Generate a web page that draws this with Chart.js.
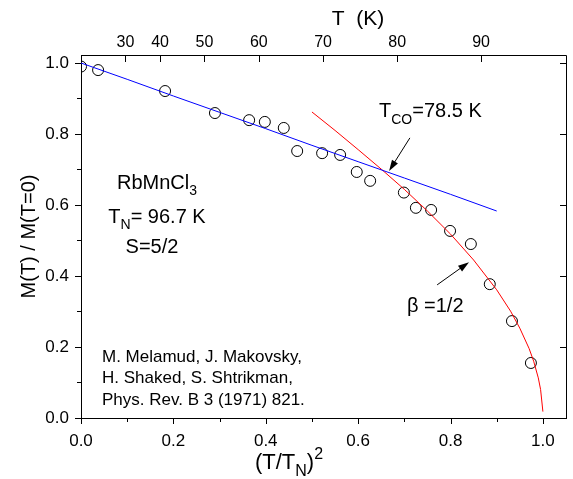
<!DOCTYPE html>
<html>
<head>
<meta charset="utf-8">
<script src="https://cdn.jsdelivr.net/npm/chart.js@4/dist/chart.umd.min.js"></script>
<style>
  html, body { margin: 0; padding: 0; background: #fff; }
  #wrap { width: 573px; height: 479px; position: relative; }
</style>
</head>
<body>
<div id="wrap"><canvas id="chart"></canvas></div>
<script>
// measured points, x = (T/TN)^2, y = M(T)/M(T=0)
var dataX = [0.000, 0.037, 0.182, 0.290, 0.364, 0.398, 0.439, 0.468, 0.522, 0.561, 0.597, 0.626, 0.699, 0.725, 0.758, 0.799, 0.844, 0.885, 0.933, 0.974];
var dataY = [0.990, 0.980, 0.921, 0.859, 0.839, 0.834, 0.817, 0.752, 0.746, 0.741, 0.693, 0.668, 0.635, 0.592, 0.586, 0.527, 0.490, 0.377, 0.273, 0.155];

// blue low temperature line
var blueX = [0.0, 0.1, 0.2, 0.3, 0.4, 0.5, 0.6, 0.7, 0.8, 0.9];
var blueY = [1.000, 0.954, 0.907, 0.861, 0.815, 0.768, 0.722, 0.676, 0.630, 0.583];

// red critical curve (beta = 1/2)
var redX = [0.50, 0.55, 0.60, 0.65, 0.70, 0.75, 0.80, 0.85, 0.90, 0.93, 0.95, 0.97, 0.98, 0.99, 0.995, 1.00];
var redY = [0.862, 0.810, 0.756, 0.701, 0.644, 0.583, 0.518, 0.445, 0.361, 0.301, 0.253, 0.196, 0.160, 0.113, 0.080, 0.018];

// ticks
var xTicks = [0.0, 0.2, 0.4, 0.6, 0.8, 1.0];
var xMinor = [0.1, 0.3, 0.5, 0.7, 0.9];
var yTicks = [0.0, 0.2, 0.4, 0.6, 0.8, 1.0];
var yMinor = [0.1, 0.3, 0.5, 0.7, 0.9];
var tempTicks = [30, 40, 50, 60, 70, 80, 90];
var TN = 96.7;

var FONT = "'Liberation Sans', Arial, sans-serif";

function pts(xs, ys) {
    return xs.map(function(x, i) { return { x: x, y: ys[i] }; });
}

// draws text pieces with sub/superscripts; parts = [text, size, dy]
function richText(ctx, x, y, parts, align) {
    var w = 0;
    parts.forEach(function(p) {
        ctx.font = p[1] + "px " + FONT;
        w += ctx.measureText(p[0]).width;
    });
    var cx = align === "center" ? x - w / 2 : x;
    ctx.textAlign = "left";
    ctx.textBaseline = "alphabetic";
    parts.forEach(function(p) {
        ctx.font = p[1] + "px " + FONT;
        ctx.fillText(p[0], cx, y + p[2]);
        cx += ctx.measureText(p[0]).width;
    });
}

function arrow(ctx, x1, y1, x2, y2) {
    var a = Math.atan2(y2 - y1, x2 - x1);
    var len = 11, half = 3.5;
    ctx.beginPath();
    ctx.moveTo(x1, y1);
    ctx.lineTo(x2 - Math.cos(a) * len * 0.8, y2 - Math.sin(a) * len * 0.8);
    ctx.stroke();
    ctx.beginPath();
    ctx.moveTo(x2, y2);
    ctx.lineTo(x2 - Math.cos(a) * len + Math.sin(a) * half, y2 - Math.sin(a) * len - Math.cos(a) * half);
    ctx.lineTo(x2 - Math.cos(a) * len - Math.sin(a) * half, y2 - Math.sin(a) * len + Math.cos(a) * half);
    ctx.closePath();
    ctx.fill();
}

var extras = {
    id: "extras",
    afterDraw: function(chart) {
        var ctx = chart.ctx;
        var xs = chart.scales.x, ys = chart.scales.y, xt = chart.scales.xTop;
        var a = chart.chartArea;
        ctx.save();
        ctx.strokeStyle = "#000";
        ctx.fillStyle = "#000";
        ctx.lineWidth = 1;

        // frame top/right
        ctx.beginPath();
        ctx.moveTo(a.left, a.top + 0.5);
        ctx.lineTo(a.right + 0.5, a.top + 0.5);
        ctx.lineTo(a.right + 0.5, a.bottom);
        ctx.stroke();

        // ticks
        ctx.beginPath();
        xTicks.forEach(function(v) {
            var px = Math.round(xs.getPixelForValue(v)) + 0.5;
            ctx.moveTo(px, a.bottom); ctx.lineTo(px, a.bottom + 6);
        });
        xMinor.forEach(function(v) {
            var px = Math.round(xs.getPixelForValue(v)) + 0.5;
            ctx.moveTo(px, a.bottom); ctx.lineTo(px, a.bottom + 4);
        });
        yTicks.forEach(function(v) {
            var py = Math.round(ys.getPixelForValue(v)) + 0.5;
            ctx.moveTo(a.left, py); ctx.lineTo(a.left - 6, py);
            ctx.moveTo(a.right, py); ctx.lineTo(a.right - 6, py);
        });
        yMinor.forEach(function(v) {
            var py = Math.round(ys.getPixelForValue(v)) + 0.5;
            ctx.moveTo(a.left, py); ctx.lineTo(a.left - 4, py);
        });
        tempTicks.forEach(function(t) {
            var px = Math.round(xt.getPixelForValue((t / TN) * (t / TN))) + 0.5;
            ctx.moveTo(px, a.top); ctx.lineTo(px, a.top + 7);
        });
        ctx.stroke();

        // axis titles with sub/superscripts
        richText(ctx, 358, 25, [["T  (K)", 21, 0]], "center");
        richText(ctx, 289, 469, [["(T/T", 22, 0], ["N", 16, 7], [")", 22, 0], ["2", 16, -10]], "center");

        // sample labels
        richText(ctx, 157, 189, [["RbMnCl", 20, 0], ["3", 14, 6]], "center");
        richText(ctx, 157, 223, [["T", 20, 0], ["N", 14, 6], ["= 96.7 K", 20, 0]], "center");
        richText(ctx, 152, 253, [["S=5/2", 20, 0]], "center");

        richText(ctx, 379, 117, [["T", 20, 0], ["CO", 14, 7], ["=78.5 K", 20, 0]], "left");
        richText(ctx, 407, 312, [["\u03b2 =1/2", 20, 0]], "left");

        ctx.font = "17px " + FONT;
        ctx.fillText("M. Melamud, J. Makovsky,", 102, 362);
        ctx.fillText("H. Shaked, S. Shtrikman,", 102, 383);
        ctx.fillText("Phys. Rev. B 3 (1971) 821.", 102, 405);

        // arrows
        arrow(ctx, xs.getPixelForValue(0.712), ys.getPixelForValue(0.789), xs.getPixelForValue(0.667), ys.getPixelForValue(0.696));
        arrow(ctx, xs.getPixelForValue(0.771), ys.getPixelForValue(0.375), xs.getPixelForValue(0.840), ys.getPixelForValue(0.439));
        ctx.restore();
    }
};

var tickFont = { family: FONT, size: 17 };
var noGrid = { display: false, drawTicks: false };

new Chart(document.getElementById("chart"), {
    type: "scatter",
    data: {
        datasets: [{
            label: "blue",
            data: pts(blueX, blueY),
            showLine: true,
            borderColor: "#0000ff",
            borderWidth: 1,
            pointRadius: 0,
            fill: false
        }, {
            label: "red",
            data: pts(redX, redY),
            showLine: true,
            borderColor: "#ff0000",
            borderWidth: 1,
            pointRadius: 0,
            fill: false
        }, {
            label: "data",
            data: pts(dataX, dataY),
            showLine: false,
            pointStyle: "circle",
            pointRadius: 5.5,
            pointBorderWidth: 1,
            pointBorderColor: "#000",
            pointBackgroundColor: "rgba(0,0,0,0)"
        }]
    },
    options: {
        responsive: true,
        maintainAspectRatio: false,
        animation: false,
        events: [],
        layout: { padding: 0 },
        plugins: { legend: { display: false }, tooltip: { enabled: false } },
        scales: {
            x: {
                type: "linear", position: "bottom", min: 0, max: 1.05,
                afterBuildTicks: function(s) { s.ticks = xTicks.map(function(v) { return { value: v }; }); },
                afterFit: function(s) { s.height = 61; },
                ticks: { font: tickFont, color: "#000", padding: 13, maxRotation: 0, autoSkip: false,
                         callback: function(v) { return v.toFixed(1); } },
                grid: noGrid,
                border: { display: true, color: "#000", width: 1 }
            },
            xTop: {
                type: "linear", position: "top", min: 0, max: 1.05,
                afterBuildTicks: function(s) { s.ticks = tempTicks.map(function(t) { return { value: (t / TN) * (t / TN) }; }); },
                afterFit: function(s) { s.height = 55; },
                ticks: { font: { family: FONT, size: 16 }, color: "#000", padding: 3, maxRotation: 0, autoSkip: false,
                         callback: function(v, i) { return String(tempTicks[i]); } },
                grid: noGrid,
                border: { display: false }
            },
            y: {
                type: "linear", position: "left", min: 0, max: 1.0225,
                afterBuildTicks: function(s) { s.ticks = yTicks.map(function(v) { return { value: v }; }); },
                afterFit: function(s) { s.width = 81; },
                ticks: { font: tickFont, color: "#000", padding: 12, autoSkip: false,
                         callback: function(v) { return v.toFixed(1); } },
                grid: noGrid,
                border: { display: true, color: "#000", width: 1 },
                title: { display: true, text: "M(T) / M(T=0)", font: { family: FONT, size: 20 }, color: "#000", padding: { top: 17, bottom: 0 } }
            },
            yRight: {
                type: "linear", position: "right", min: 0, max: 1.0225,
                afterFit: function(s) { s.width = 7; },
                ticks: { display: false },
                grid: noGrid,
                border: { display: false }
            }
        }
    },
    plugins: [extras]
});
</script>
</body>
</html>
